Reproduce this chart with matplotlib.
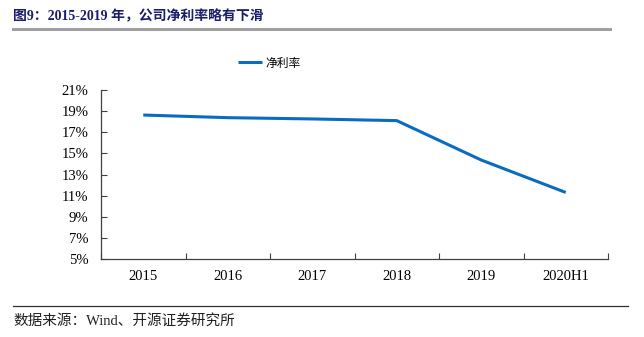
import numpy as np
import matplotlib
matplotlib.use('Agg')
import matplotlib.pyplot as plt
from matplotlib.ticker import FixedLocator

## data
years = ['2015', '2016', '2017', '2018', '2019', '2020H1']
net_margin = [18.63, 18.38, 18.26, 18.10, 14.37, 11.30]  # %
y_ticks = [5, 7, 9, 11, 13, 15, 17, 19, 21]

serif_cjk = ['Liberation Serif', 'Noto Sans CJK SC']
plt.rcParams['font.family'] = serif_cjk

fig = plt.figure(figsize=(6.44, 3.37), dpi=100)
ax = fig.add_axes([101 / 644, 78 / 337, 507 / 644, 169 / 337])

x = np.arange(len(years))
ax.plot(x, net_margin, color='#0a6cc1', lw=2.2, label='净利率', solid_capstyle='butt')

# axes
ax.set_xlim(-0.5, len(years) - 0.5)
ax.set_ylim(5, 21)
ax.set_yticks(y_ticks)
ax.set_yticklabels([f'{v}%' for v in y_ticks])
ax.set_xticks(x)
ax.set_xticklabels(years)
ax.xaxis.set_minor_locator(FixedLocator(np.arange(-0.5, len(years), 1.0)))
ax.tick_params(axis='x', which='major', length=0, pad=8, labelsize=10.5)
ax.tick_params(axis='x', which='minor', direction='in', length=4, width=0.8, color='#404040')
ax.tick_params(axis='y', direction='in', length=4, width=0.8, color='#404040', labelsize=10.5, pad=9)

for s in ['top', 'right']:
    ax.spines[s].set_visible(False)
for s in ['left', 'bottom']:
    ax.spines[s].set_color('#404040')
    ax.spines[s].set_linewidth(0.9)

# legend
leg = fig.legend(loc='center', bbox_to_anchor=(0.418, 1 - 63 / 337), frameon=False,
                 handlelength=2.0, handletextpad=0.3,
                 prop={'family': ['Noto Sans CJK SC'], 'size': 8.5})

# title and rule
fig.text(13 / 644, 1 - 16 / 337, '图9：2015-2019 年，公司净利率略有下滑', fontsize=10,
         fontweight='bold', color='#1b1d6b', va='center', ha='left', family=serif_cjk)
fig.add_artist(plt.Line2D([13 / 644, 610 / 644], [1 - 29 / 337, 1 - 29 / 337],
                          color='#a0a0a0', lw=2.2))

# source note and rule
fig.add_artist(plt.Line2D([13 / 644, 628 / 644], [1 - 306 / 337, 1 - 306 / 337],
                          color='#303030', lw=0.9))
fig.text(13 / 644, 1 - 321 / 337, '数据来源：Wind、开源证券研究所', fontsize=10.5,
         color='#202020', va='center', ha='left', family=serif_cjk)

fig.savefig('out.png', dpi=100)
